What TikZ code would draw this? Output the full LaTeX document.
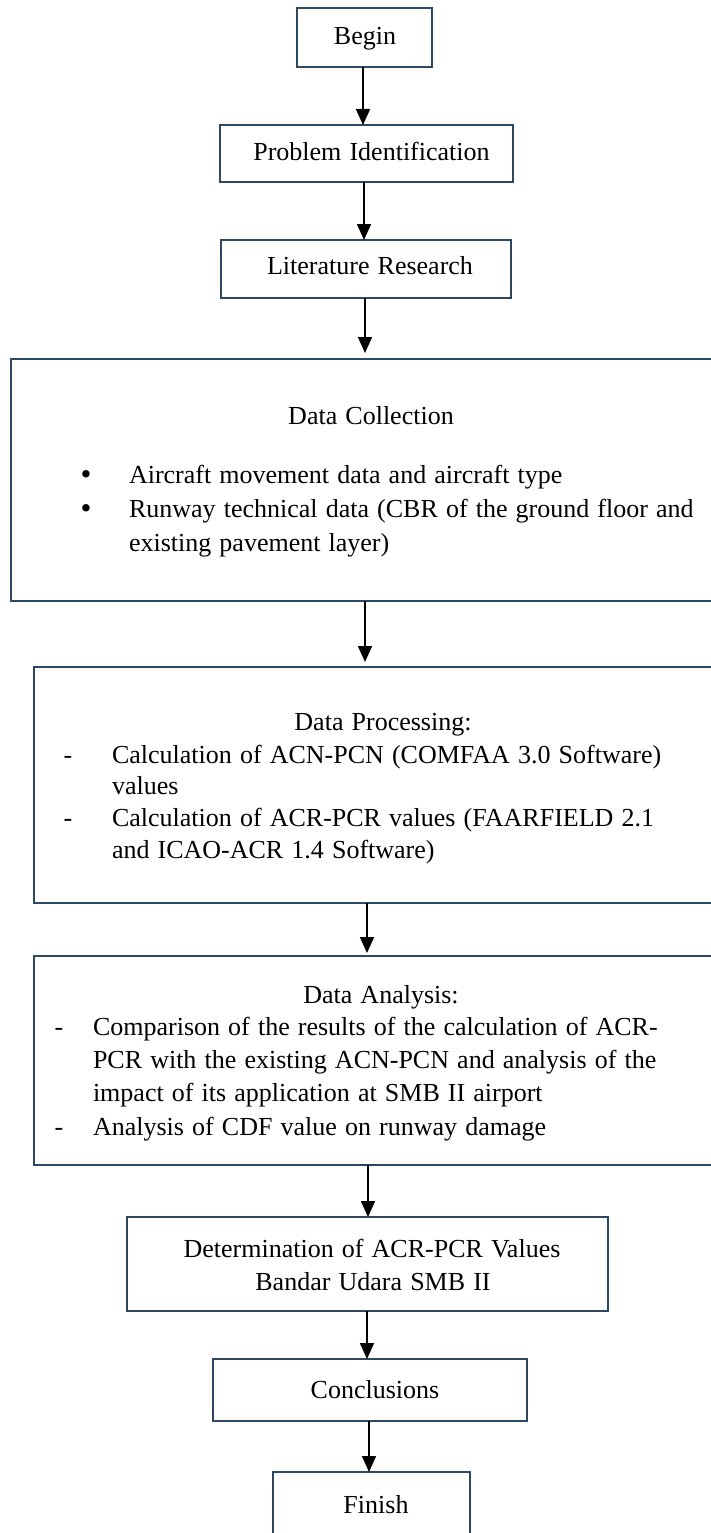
\documentclass[tikz,border=0pt]{standalone}
\usepackage{fontspec}
\setmainfont{Liberation Serif}[WordSpace=1.25]
\usetikzlibrary{arrows.meta}
\definecolor{boxline}{HTML}{2F4862}
\tikzset{
  box/.style={draw=boxline, line width=1.5pt, rectangle, inner sep=0pt, outer sep=0pt, fill=none},
  txt/.style={inner sep=0pt, outer sep=0pt, font=\fontsize{26}{31}\selectfont},
  bul/.style={inner sep=0pt, outer sep=0pt, font=\fontsize{31}{31}\selectfont},
  arr/.style={draw=black, line width=1.6pt, -{Triangle[length=16pt,width=14pt]}}
}
\begin{document}
\begin{tikzpicture}[x=1pt,y=-1pt]
\useasboundingbox (0,0) rectangle (710,1533);
% boxes
\node[box, minimum width=135pt, minimum height=59pt] (begin) at (364.5,37.5) {};
\node[box, minimum width=293pt, minimum height=57pt] (prob) at (366.5,153.5) {};
\node[box, minimum width=290pt, minimum height=58pt] (lit) at (366,269) {};
\node[box, minimum width=702pt, minimum height=242pt] (dc) at (362,480) {};
\node[box, minimum width=679pt, minimum height=236pt] (dp) at (373.5,785) {};
\node[box, minimum width=679pt, minimum height=209pt] (da) at (373.5,1060.5) {};
\node[box, minimum width=481pt, minimum height=94pt] (det) at (367.5,1264) {};
\node[box, minimum width=314pt, minimum height=62pt] (concl) at (370,1390) {};
\node[box, minimum width=197pt, minimum height=68pt] (finish) at (371.5,1506) {};
% texts
\node[txt, anchor=base] (tbegin) at (365,45) {Begin};
\node[txt, anchor=base] (tprob) at (371.5,161) {Problem Identification};
\node[txt, anchor=base] (tlit) at (370,274) {Literature Research};
\node[txt, anchor=base] (tdc) at (371,424) {Data Collection};
\node[bul, anchor=base] (b1) at (86,484) {•};
\node[txt, anchor=base west] (dc1) at (129,483) {Aircraft movement data and aircraft type};
\node[bul, anchor=base] (b2) at (86,518) {•};
\node[txt, anchor=base west] (dc2) at (129,517) {Runway technical data (CBR of the ground floor and};
\node[txt, anchor=base west] (dc3) at (129,551) {existing pavement layer)};
\node[txt, anchor=base] (tdp) at (383,730) {Data Processing:};
\node[txt, anchor=base] (d1) at (68,763) {-};
\node[txt, anchor=base west] (dp1) at (112,763) {Calculation of ACN-PCN (COMFAA 3.0 Software)};
\node[txt, anchor=base west] (dp2) at (112,794) {values};
\node[txt, anchor=base] (d2) at (68,826) {-};
\node[txt, anchor=base west] (dp3) at (112,826) {Calculation of ACR-PCR values (FAARFIELD 2.1};
\node[txt, anchor=base west] (dp4) at (112,858) {and ICAO-ACR 1.4 Software)};
\node[txt, anchor=base] (tda) at (381,1003) {Data Analysis:};
\node[txt, anchor=base] (d3) at (59,1035) {-};
\node[txt, anchor=base west] (da1) at (93,1035) {Comparison of the results of the calculation of ACR-};
\node[txt, anchor=base west] (da2) at (93,1068) {PCR with the existing ACN-PCN and analysis of the};
\node[txt, anchor=base west] (da3) at (93,1101) {impact of its application at SMB II airport};
\node[txt, anchor=base] (d4) at (59,1135) {-};
\node[txt, anchor=base west] (da4) at (93,1135) {Analysis of CDF value on runway damage};
\node[txt, anchor=base] (tdet1) at (372,1257) {Determination of ACR-PCR Values};
\node[txt, anchor=base] (tdet2) at (373,1290) {Bandar Udara SMB II};
\node[txt, anchor=base] (tconcl) at (375,1398) {Conclusions};
\node[txt, anchor=base] (tfinish) at (376,1513) {Finish};
% axis coordinates for arrows
\coordinate (x1) at (363,0);
\coordinate (x2) at (364,0);
\coordinate (x3) at (365,0);
\coordinate (x5) at (367,0);
\coordinate (x6) at (368,0);
\coordinate (x8) at (369,0);
% arrows
\draw[arr] (begin.south -| x1) -- (prob.north -| x1);
\draw[arr] (prob.south -| x2) -- (lit.north -| x2);
\draw[arr, shorten >=6pt] (lit.south -| x3) -- (dc.north -| x3);
\draw[arr, shorten >=5pt] (dc.south -| x3) -- (dp.north -| x3);
\draw[arr, shorten >=3pt] (dp.south -| x5) -- (da.north -| x5);
\draw[arr] (da.south -| x6) -- (det.north -| x6);
\draw[arr] (det.south -| x5) -- (concl.north -| x5);
\draw[arr] (concl.south -| x8) -- (finish.north -| x8);
\end{tikzpicture}
\end{document}
